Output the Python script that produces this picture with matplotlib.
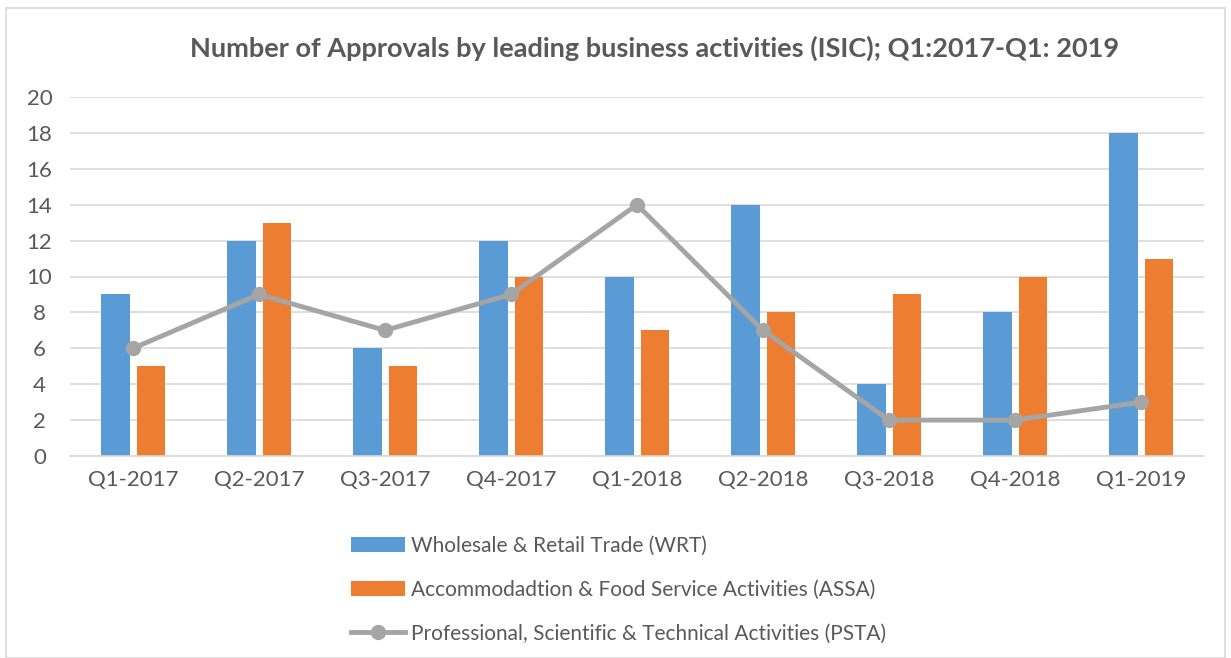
import matplotlib.pyplot as plt
import numpy as np
from matplotlib.patches import Rectangle

plt.rcParams['font.family'] = ['Lato', 'DejaVu Sans']

quarters = ['Q1-2017', 'Q2-2017', 'Q3-2017', 'Q4-2017', 'Q1-2018',
            'Q2-2018', 'Q3-2018', 'Q4-2018', 'Q1-2019']
wrt = [9, 12, 6, 12, 10, 14, 4, 8, 18]
assa = [5, 13, 5, 10, 7, 8, 9, 10, 11]
psta = [6, 9, 7, 9, 14, 7, 2, 2, 3]

text_col = '#595959'

fig = plt.figure(figsize=(12.31, 6.58), dpi=100)
ax = fig.add_axes([70 / 1231, 1 - 456 / 658, 1134 / 1231, 359 / 658])

x = np.arange(len(quarters))
w = 0.225
b1 = ax.bar(x - 0.14, wrt, width=w, color='#5B9BD5', zorder=2)
b2 = ax.bar(x + 0.145, assa, width=w, color='#ED7D31', zorder=2)
l1, = ax.plot(x, psta, color='#A5A5A5', lw=3.5, marker='o', markersize=10, zorder=3)

ax.set_xlim(-0.5, len(quarters) - 0.5)
ax.set_ylim(0, 20)
ax.set_yticks(range(0, 21, 2))
ax.set_xticks(x)
ax.set_xticklabels(quarters)
ax.grid(axis='y', color='#D9D9D9', lw=1.2, zorder=0)
for s in ['top', 'right', 'left']:
    ax.spines[s].set_visible(False)
ax.spines['bottom'].set_color('#D9D9D9')
ax.spines['bottom'].set_linewidth(1.2)
ax.tick_params(length=0, labelsize=16, colors=text_col, pad=10)
ax.tick_params(axis='y', pad=22)
for t in ax.get_yticklabels():
    t.set_horizontalalignment('center')

fig.text(0.532, 1 - 48 / 658, 'Number of Approvals by leading business activities (ISIC); Q1:2017-Q1: 2019',
         ha='center', va='center', fontsize=19.5, fontweight='bold', color=text_col)

leg = fig.legend([b1, b2, l1],
                 ['Wholesale & Retail Trade (WRT)',
                  'Accommodadtion & Food Service Activities (ASSA)',
                  'Professional, Scientific & Technical Activities (PSTA)'],
                 loc='upper left', bbox_to_anchor=(332 / 1231, 1 - 517 / 658),
                 frameon=False, fontsize=15, labelcolor=text_col, handlelength=2.6,
                 handletextpad=0.3, labelspacing=1.15, handleheight=0.7)

fig.patches.append(Rectangle((6 / 1231, 0), 1 - 12 / 1231, 1 - 8 / 658, transform=fig.transFigure,
                             fill=False, edgecolor='#D9D9D9', lw=1.2))

fig.savefig('out.png', dpi=100)
